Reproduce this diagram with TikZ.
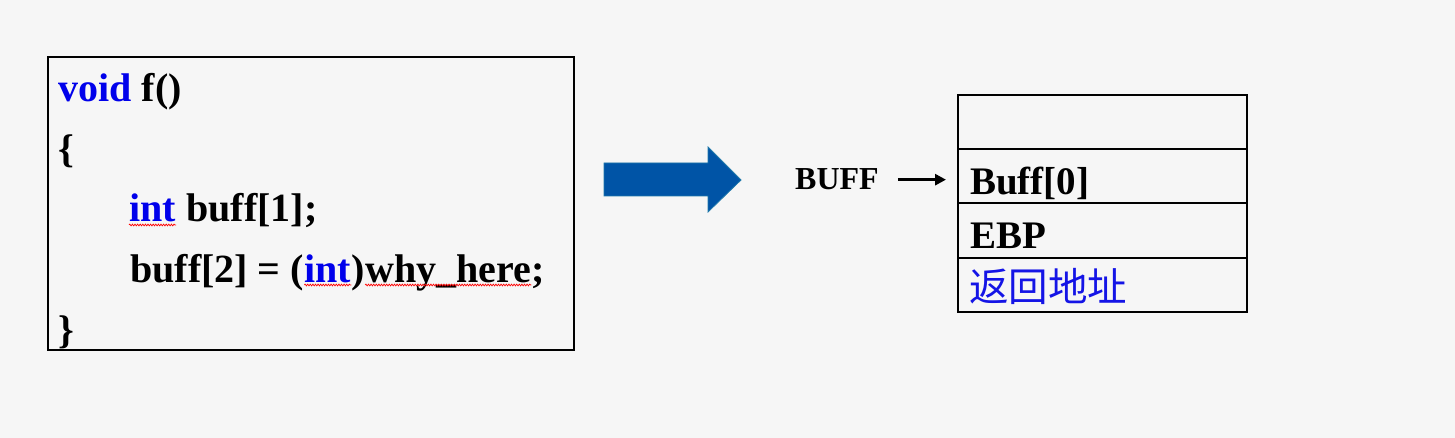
\documentclass[tikz,border=0pt]{standalone}
\usepackage{fontspec}
\setmainfont{Liberation Serif}
\newfontfamily\cjk{Noto Sans CJK SC}
\usetikzlibrary{arrows.meta,decorations.pathmorphing}
\definecolor{kwblue}{RGB}{0,0,235}
\definecolor{cjkblue}{RGB}{20,20,230}
\definecolor{bigarrow}{RGB}{0,84,166}
\definecolor{bigarrowedge}{RGB}{30,120,170}
\definecolor{bgcol}{RGB}{246,246,246}
\tikzset{
  codetxt/.style={anchor=base west, inner sep=0pt, font=\bfseries\fontsize{40}{40}\selectfont},
  kw/.style={codetxt, text=kwblue},
  cellbox/.style={draw, line width=2pt, minimum width=289pt, minimum height=54pt, inner sep=0pt},
  celltxt/.style={anchor=base west, inner sep=0pt, font=\bfseries\fontsize{39}{39}\selectfont},
  wavy/.style={red, line width=0.7pt, decorate, decoration={snake, amplitude=0.9pt, segment length=2.6pt}},
}
\begin{document}
\begin{tikzpicture}[x=1pt,y=-1pt]
\useasboundingbox (0,0) rectangle (1455,438);
\fill[bgcol] (0,0) rectangle (1455,438);

% code box
\node[draw, line width=2pt, minimum width=526pt, minimum height=293pt, inner sep=0pt] (code) at (311,203.5) {};
\node[kw] (void) at (58,102) {void};
\node[codetxt] (fname) at (void.base east) {\ f()};
\node[codetxt] (lbrace) at (58,163) {\{};
\node[kw] (int1) at (129,222) {int};
\node[codetxt] (decl) at (int1.base east) {\ buff[1];};
\node[codetxt] (asg) at (130,282) {buff[2] = (};
\node[kw] (int2) at (asg.base east) {int};
\node[codetxt] (rpar) at (int2.base east) {)};
\node[codetxt] (why) at (rpar.base east) {why\_here};
\node[codetxt] (semi) at (why.base east) {;};
\node[codetxt] (rbrace) at (58,343) {\}};

\draw[wavy] ([yshift=-3pt]int1.base west) -- ([yshift=-3pt]int1.base east);
\draw[wavy] ([yshift=-3pt]int2.base west) -- ([yshift=-3pt]int2.base east);
\draw[wavy] ([yshift=-3pt]why.base west) -- ([yshift=-3pt]why.base east);

% big arrow
\filldraw[fill=bigarrow, draw=bigarrowedge, line width=0.8pt]
  (604,163) -- (708,163) -- (708,147) -- (741,180) -- (708,212) -- (708,196) -- (604,196) -- cycle;

% stack
\node[cellbox] (r1) at (1102.5,122) {};
\node[cellbox] (r2) at (1102.5,176) {};
\node[cellbox] (r3) at (1102.5,230.5) {};
\node[cellbox] (r4) at (1102.5,285) {};
\node[celltxt] (t2) at (970,195) {Buff[0]};
\node[celltxt] (t3) at (970,248) {EBP};
\node[anchor=base west, inner sep=0pt, text=cjkblue, font=\cjk\fontsize{39.5}{39.5}\selectfont] (t4) at (969,301) {返回地址};

% BUFF pointer
\node[anchor=base west, inner sep=0pt, font=\bfseries\fontsize{32}{32}\selectfont] (buff) at (795,190) {BUFF};
\draw[line width=3pt, -{Triangle[length=11pt,width=11pt]}, shorten <=19pt, shorten >=11pt]
  (buff.east) -- (buff.east -| r2.west);
\end{tikzpicture}
\end{document}
